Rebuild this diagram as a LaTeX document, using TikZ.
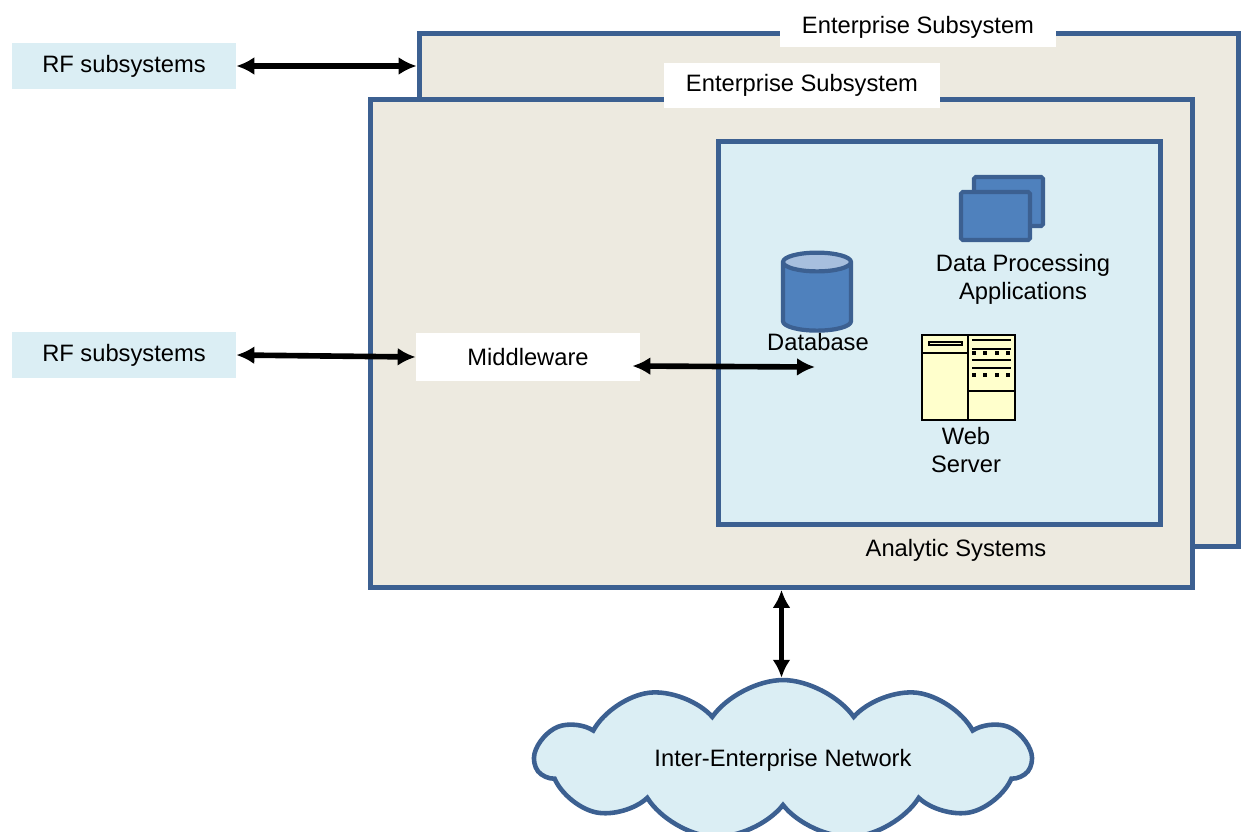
\documentclass[tikz,border=0pt]{standalone}
\usepackage{fontspec}
\setmainfont{Liberation Sans}
\usetikzlibrary{shapes.geometric,shapes.symbols,arrows.meta}

\definecolor{frame}{RGB}{60,96,145}
\definecolor{paper}{RGB}{237,234,224}
\definecolor{sky}{RGB}{219,238,244}
\definecolor{tile}{RGB}{79,129,189}
\definecolor{tiletop}{RGB}{167,191,222}
\definecolor{cream}{RGB}{255,255,204}

\tikzset{
  enc/.style={draw=frame, fill=paper, line width=2.8pt},
  tag/.style={fill=white, inner sep=0pt, minimum width=5.52cm},
  rf/.style={fill=sky, minimum width=4.48cm, minimum height=0.94cm},
  link/.style={line width=3.2pt, {Latex[length=0.36cm,width=0.36cm]}-{Latex[length=0.36cm,width=0.36cm]}},
  icon/.style={draw=frame, fill=tile, line width=2.4pt, rounded corners=1pt},
}

\begin{document}
\begin{tikzpicture}[x=0.02cm, y=-0.02cm, font=\fontsize{13.5}{16}\selectfont]
\useasboundingbox (0,0) rectangle (1242,832);

% Enterprise subsystems
\node[enc, minimum width=16.4cm, minimum height=10.28cm] (back) at (829,290) {};
\node[tag, minimum height=0.78cm] (backtag) at (918,27.5) {Enterprise Subsystem};
\node[enc, minimum width=16.44cm, minimum height=9.76cm] (front) at (781.5,343.5) {};
\node[tag, minimum height=0.9cm] (fronttag) at (802,85.5) {Enterprise Subsystem};

% Analytic systems
\node[enc, fill=sky, minimum width=8.84cm, minimum height=7.66cm] (ana) at (939.5,333) {};
\node (analab) at (956,550) {Analytic Systems};

% RF subsystems and middleware
\node[rf] (rfA) at (124,66) {RF subsystems};
\node[rf] (rfB) at (124,355) {RF subsystems};
\node[fill=white, minimum width=4.48cm, minimum height=0.96cm] (mw) at (528,357) {Middleware};

% Database
\node[cylinder, shape border rotate=90, draw=frame, line width=2.4pt,
  cylinder uses custom fill, cylinder body fill=tile, cylinder end fill=tiletop,
  aspect=1.6, minimum width=1.36cm, minimum height=1.56cm] (db) at (817,300) {};
\node (dblab) at (818,342) {Database};
\coordinate (dbin) at (815,367);

% Data processing
\draw[icon] (974,177) rectangle (1043,226);
\draw[icon] (961,192) rectangle (1030,240);
\node[align=center] (dplab) at (1023,279) {Data Processing\\Applications};

% Web server
\draw[fill=cream, line width=1.2pt] (922,335) rectangle (1015,420);
\draw[line width=1.2pt] (968,335) -- (968,420) (922,353) -- (968,353) (968,391) -- (1015,391);
\draw[line width=1pt] (929,342) rectangle (962,345);
\foreach \y in {340,349,360,368}
  \draw[line width=1.3pt] (972,\y) -- (1011,\y);
\foreach \y in {353,375}
  \foreach \x in {974,985,997,1008}
    \fill (\x-2,\y-2) rectangle (\x+2,\y+2);
\node[align=center] (wslab) at (966,450) {Web\\Server};

% Network
\node[cloud, draw=frame, fill=sky, line width=2.6pt, cloud puffs=11, cloud puff arc=110,
  aspect=3.5, minimum width=9.9cm, minimum height=2.7cm] (net) at (783,760) {Inter-Enterprise Network};

% Links
\draw[link] (rfA.east) -- (rfA.east -| back.west);
\draw[link] (rfB.east) -- (mw.west);
\draw[link] ([xshift=-0.16cm,yshift=-0.18cm]mw.east) -- (dbin);
\draw[link] (front.south) -- (front.south |- net.north);
\end{tikzpicture}
\end{document}
